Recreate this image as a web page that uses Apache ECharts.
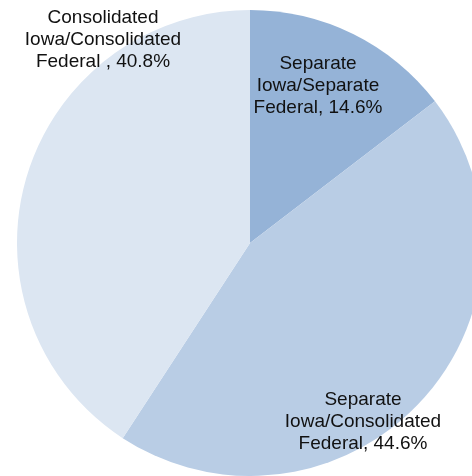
<!DOCTYPE html>
<html>
<head>
<meta charset="utf-8">
<script src="https://cdn.jsdelivr.net/npm/echarts@6/dist/echarts.min.js"></script>
<style>html,body{margin:0;padding:0;background:#fff}#c{width:472px;height:476px}</style>
</head>
<body>
<div id="c"></div>
<script>
const categories = ["Separate\nIowa/Separate\nFederal", "Separate\nIowa/Consolidated\nFederal", "Consolidated\nIowa/Consolidated\nFederal "];
const values = [14.6, 44.6, 40.8];
const colors = ["#95B3D7", "#B9CDE5", "#DCE6F2"];
const labelPos = [[318, 86], [363, 422], [103, 40]];

const chart = echarts.init(document.getElementById('c'), null, {renderer: 'canvas'});
chart.setOption({
  animation: false,
  series: [{
    type: 'pie',
    center: [250, 243],
    radius: 233,
    startAngle: 90,
    clockwise: true,
    data: categories.map((n, i) => ({name: n, value: values[i], itemStyle: {color: colors[i]}})),
    label: {
      show: true,
      position: 'inside',
      formatter: p => p.name + ', ' + p.value.toFixed(1) + '%',
      fontFamily: 'Liberation Sans, Arial, sans-serif',
      fontSize: 19,
      lineHeight: 22,
      color: '#111',
      align: 'center'
    },
    labelLine: {show: false},
    labelLayout: function (params) {
      const p = labelPos[params.dataIndex];
      return {x: p[0], y: p[1], align: 'center', verticalAlign: 'middle'};
    },
    emphasis: {disabled: true}
  }]
});
</script>
</body>
</html>
